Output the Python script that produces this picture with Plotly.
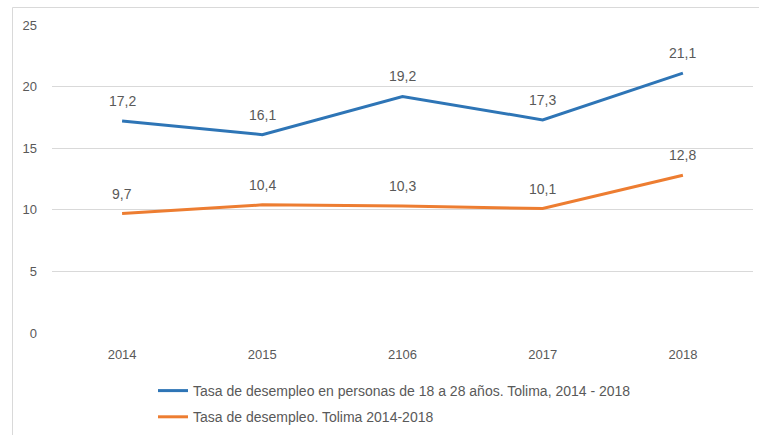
import plotly.graph_objects as go

years = ["2014", "2015", "2106", "2017", "2018"]
jovenes = [17.2, 16.1, 19.2, 17.3, 21.1]
general = [9.7, 10.4, 10.3, 10.1, 12.8]
name_jovenes = "Tasa de desempleo en personas de 18 a 28 años. Tolima, 2014 - 2018"
name_general = "Tasa de desempleo. Tolima 2014-2018"

BLUE = "#2E75B6"
ORANGE = "#ED7D31"
FONT = "Liberation Sans, Arial, sans-serif"
TXT = "#595959"

fig = go.Figure()
fig.add_trace(go.Scatter(x=years, y=jovenes, mode="lines", name=name_jovenes,
                         line=dict(color=BLUE, width=3), legendgroup="a"))
fig.add_trace(go.Scatter(x=years, y=general, mode="lines", name=name_general,
                         line=dict(color=ORANGE, width=3), legendgroup="b"))

def fmt(v):
    return f"{v:.1f}".replace(".", ",")

for series in (jovenes, general):
    for i, v in enumerate(series):
        fig.add_annotation(x=i, y=v, text=fmt(v), showarrow=False, yshift=20,
                           font=dict(family=FONT, size=14, color=TXT))

W, H = 759, 435
L, R, T, B = 52, 6, 25, 102
pw, ph = W - L - R, H - T - B
fig.add_shape(type="rect", xref="paper", yref="paper",
              x0=(12.5 - L) / pw, x1=(W + 4 - L) / pw,
              y0=-(H + 4 - T - ph) / ph, y1=(H - B - 7.5) / ph,
              line=dict(color="#d9d9d9", width=1), fillcolor="rgba(0,0,0,0)", layer="below")

fig.update_layout(
    width=W, height=H,
    margin=dict(l=L, r=R, t=T, b=B, autoexpand=False),
    paper_bgcolor="white", plot_bgcolor="white",
    font=dict(family=FONT, size=13, color=TXT),
    showlegend=True,
    legend=dict(orientation="v", x=(153 - L) / pw, xanchor="left", y=-42 / ph, yanchor="top",
                font=dict(family=FONT, size=14, color=TXT), traceorder="grouped",
                tracegroupgap=5, itemwidth=30, bgcolor="rgba(0,0,0,0)"),
    xaxis=dict(type="category", range=[-0.5, 4.5], showgrid=False, showline=False, zeroline=False,
               ticks="", tickfont=dict(family=FONT, size=13, color=TXT), ticklabelstandoff=12),
    yaxis=dict(range=[0, 25], dtick=5, showgrid=True, gridcolor="#d9d9d9", gridwidth=1,
               zeroline=False, showline=False, ticks="",
               tickfont=dict(family=FONT, size=13, color=TXT), ticklabelstandoff=14),
)

# remove the browser's default 8px body margin so the figure fills the window exactly
fig.write_html("out.html", config={"displayModeBar": False},
               post_script="document.body.style.margin='0';")
